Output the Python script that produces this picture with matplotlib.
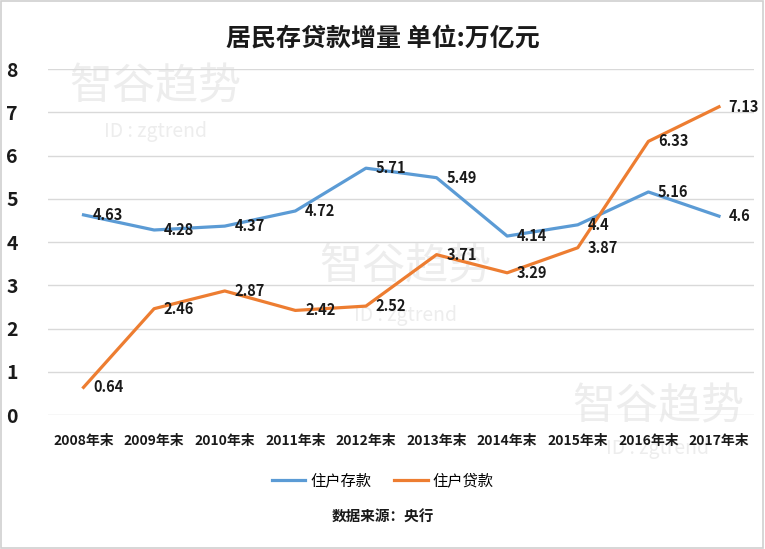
import matplotlib.pyplot as plt
from matplotlib.patches import Rectangle

plt.rcParams['font.family'] = ['Noto Sans CJK SC', 'DejaVu Sans']

years = ["2008年末", "2009年末", "2010年末", "2011年末", "2012年末",
         "2013年末", "2014年末", "2015年末", "2016年末", "2017年末"]
deposits = [4.63, 4.28, 4.37, 4.72, 5.71, 5.49, 4.14, 4.4, 5.16, 4.6]
loans = [0.64, 2.46, 2.87, 2.42, 2.52, 3.71, 3.29, 3.87, 6.33, 7.13]
series_names = ["住户存款", "住户贷款"]

blue = "#5B9BD5"
orange = "#ED7D31"

fig = plt.figure(figsize=(7.65, 5.49), dpi=100)
ax = fig.add_axes([0.063, 0.244, 0.923, 0.630])
ax.patch.set_alpha(0)

x = range(len(years))
ax.plot(x, deposits, color=blue, lw=2.3, label=series_names[0], zorder=3)
ax.plot(x, loans, color=orange, lw=2.3, label=series_names[1], zorder=3)

for vals in (deposits, loans):
    for i, v in enumerate(vals):
        ax.annotate(f"{v:g}", (i, v), xytext=(7, 0), textcoords="offset points",
                    ha="left", va="center", fontsize=10.5, fontweight="bold",
                    color="#1a1a1a", zorder=4)

ax.set_xlim(-0.5, len(years) - 0.5)
ax.set_ylim(0, 8)
ax.set_yticks(range(0, 9))
ax.set_xticks(list(x))
ax.set_xticklabels(years, fontsize=10, fontweight="bold", color="#1a1a1a")
ax.tick_params(axis="y", labelsize=14, length=0, pad=22)
for lbl in ax.get_yticklabels():
    lbl.set_fontweight("bold")
    lbl.set_color("#1a1a1a")
ax.tick_params(axis="x", length=0, pad=14)
ax.grid(axis="y", color="#D9D9D9", lw=1)
ax.set_axisbelow(True)
for s in ax.spines.values():
    s.set_visible(False)

# watermarks
wm = "#EDEDED"
for (wx, wy, wid) in [(0.203, 0.84, 0.76), (0.53, 0.512, 0.426), (0.86, 0.258, 0.183)]:
    fig.text(wx, wy, "智谷趋势", fontsize=31, color=wm, ha="center",
             va="center", zorder=-1)
    fig.text(wx, wid, "ID : zgtrend", fontsize=14, color=wm,
             ha="center", va="center", zorder=-1)

fig.text(0.5, 0.93, "居民存贷款增量 单位:万亿元", fontsize=18,
         fontweight="bold", ha="center", va="center", color="#1a1a1a")

fig.legend(loc="center", bbox_to_anchor=(0.5, 0.125), ncol=2, frameon=False,
           fontsize=11, handlelength=2.2, columnspacing=1.5, handletextpad=0.3)
fig.text(0.5, 0.058, "数据来源：央行", fontsize=10.5, fontweight="bold",
         ha="center", va="center", color="#1a1a1a")

fig.add_artist(Rectangle((0.001, 0.002), 0.997, 0.996, transform=fig.transFigure,
                         fill=False, edgecolor="#D0D0D0", lw=1.2))

fig.savefig("out.png", dpi=100)
